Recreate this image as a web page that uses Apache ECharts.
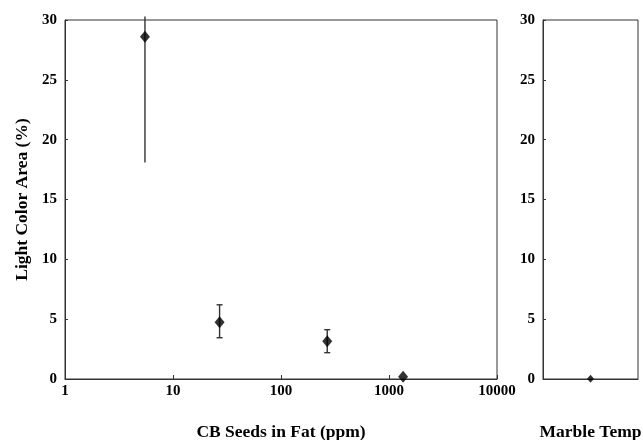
<!DOCTYPE html>
<html>
<head>
<meta charset="utf-8">
<script src="https://cdn.jsdelivr.net/npm/echarts@6/dist/echarts.min.js"></script>
<style>
  html, body { margin: 0; padding: 0; background: #fff; }
  #chart { width: 643px; height: 440px; }
</style>
</head>
<body>
<div id="chart"></div>
<script>
// CB seeds dose (ppm) vs light colour area (%)
const seedPpm = [5.5, 27, 268, 1350];
const lightArea = [28.6, 4.75, 3.15, 0.18];
const errLow = [18.1, 3.45, 2.2, 0.18];
const errHigh = [30.3, 6.2, 4.12, 0.18];
const hasCap = [false, true, true, false];

// control panel
const controlCats = ["Marble Temp"];
const controlArea = [0.03];

const yTicks = { min: 0, max: 30, interval: 5 };

const font = "'Liberation Serif', 'DejaVu Serif', serif";
const axisColor = "#333";

const chart = echarts.init(document.getElementById("chart"));

const yAxisBase = (gridIndex) => ({
  type: "value",
  gridIndex,
  min: yTicks.min,
  max: yTicks.max,
  interval: yTicks.interval,
  axisLine: { show: true, lineStyle: { color: axisColor, width: 1 } },
  axisTick: { show: true, inside: true, length: 3, lineStyle: { color: axisColor } },
  splitLine: { show: false },
  axisLabel: { color: "#000", fontFamily: font, fontWeight: "bold", fontSize: 15, margin: 8 }
});

const errorBars = (params, api) => {
  const x = api.value(0);
  const top = api.coord([x, api.value(2)]);
  const bot = api.coord([x, api.value(1)]);
  const cap = api.value(3) ? 3 : 0;
  const style = { stroke: "#333", lineWidth: 1.4 };
  const children = [
    { type: "line", shape: { x1: top[0], y1: top[1], x2: bot[0], y2: bot[1] }, style }
  ];
  if (cap) {
    children.push(
      { type: "line", shape: { x1: top[0] - cap, y1: top[1], x2: top[0] + cap, y2: top[1] }, style },
      { type: "line", shape: { x1: bot[0] - cap, y1: bot[1], x2: bot[0] + cap, y2: bot[1] }, style }
    );
  }
  return { type: "group", children };
};

const nameStyle = { color: "#000", fontFamily: font, fontWeight: "bold", fontSize: 17.5 };

const option = {
  animation: false,
  backgroundColor: "#fff",
  grid: [
    { left: 65, top: 20, width: 432, height: 359, show: true, borderColor: axisColor, borderWidth: 1, outerBoundsMode: "none", containLabel: false },
    { left: 543, top: 20, width: 95, height: 359, show: true, borderColor: axisColor, borderWidth: 1, outerBoundsMode: "none", containLabel: false }
  ],
  xAxis: [
    {
      type: "log",
      logBase: 10,
      gridIndex: 0,
      min: 1,
      max: 10000,
      name: "CB Seeds in Fat (ppm)",
      nameLocation: "middle",
      nameGap: 44,
      nameTextStyle: nameStyle,
      axisLine: { show: true, lineStyle: { color: axisColor, width: 1 } },
      axisTick: { show: true, inside: true, length: 4, lineStyle: { color: axisColor } },
      minorTick: { show: false },
      splitLine: { show: false },
      axisLabel: {
        color: "#000", fontFamily: font, fontWeight: "bold", fontSize: 15, margin: 5,
        formatter: (v) => String(Math.round(v))
      }
    },
    {
      type: "category",
      gridIndex: 1,
      data: controlCats,
      name: controlCats[0],
      nameLocation: "middle",
      nameGap: 44,
      nameTextStyle: nameStyle,
      axisLine: { show: true, lineStyle: { color: axisColor, width: 1 } },
      axisTick: { show: false },
      axisLabel: { show: false }
    }
  ],
  yAxis: [
    Object.assign(yAxisBase(0), {
      name: "Light Color Area (%)",
      nameLocation: "middle",
      nameGap: 34,
      nameTextStyle: nameStyle
    }),
    yAxisBase(1)
  ],
  series: [
    {
      type: "custom",
      xAxisIndex: 0,
      yAxisIndex: 0,
      clip: false,
      renderItem: errorBars,
      data: seedPpm.map((x, i) => [x, errLow[i], errHigh[i], hasCap[i] ? 1 : 0]),
      z: 2
    },
    {
      type: "scatter",
      xAxisIndex: 0,
      yAxisIndex: 0,
      symbol: "diamond",
      symbolSize: [10, 12],
      itemStyle: { color: "#000" },
      data: seedPpm.map((x, i) => [x, lightArea[i]]),
      z: 3
    },
    {
      type: "scatter",
      xAxisIndex: 1,
      yAxisIndex: 1,
      symbol: "diamond",
      symbolSize: [7, 8],
      itemStyle: { color: "#000" },
      clip: false,
      data: controlArea,
      z: 3
    }
  ]
};

chart.setOption(option);
</script>
</body>
</html>
